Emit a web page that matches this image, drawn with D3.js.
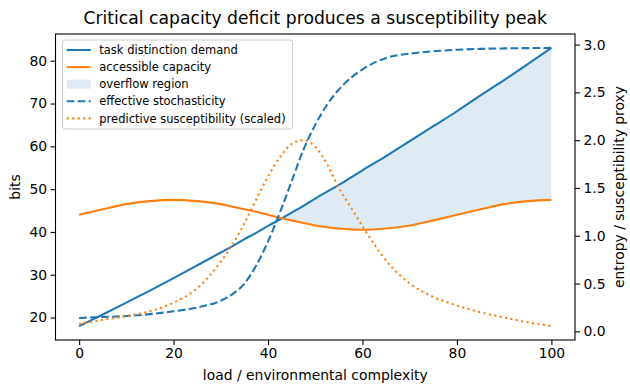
<!DOCTYPE html>
<html>
<head>
<meta charset="utf-8">
<script src="https://cdn.jsdelivr.net/npm/d3@7"></script>
<style>
    body { margin: 0; background: #fff; }
    text { font-family: "DejaVu Sans", sans-serif; fill: #000; }
</style>
</head>
<body>
<div id="chart"></div>
<script>
// load grid shared by every series
const load = [0, 5, 10, 15, 20, 25, 30, 32.5, 35, 37.5, 40, 42.5, 45, 47.5, 50,
    52.5, 55, 57.5, 60, 65, 70, 75, 80, 85, 90, 95, 100];

// left axis (bits)
const demand = [18.0, 20.7, 23.5, 26.3, 29.2, 32.2, 35.2, 36.7, 38.3, 39.8, 41.4, 42.9, 44.5, 46.1, 47.8,
    49.4, 51.0, 52.7, 54.4, 57.7, 61.2, 64.7, 68.2, 71.9, 75.5, 79.2, 83.0];
const capacity = [44.0, 45.3, 46.5, 47.2, 47.5, 47.2, 46.5, 45.9, 45.3, 44.7, 44.0, 43.3, 42.7, 42.1, 41.5,
    41.1, 40.8, 40.6, 40.5, 40.8, 41.5, 42.7, 44.0, 45.3, 46.5, 47.2, 47.5];

// right axis (entropy / susceptibility proxy)
const stochasticity = [0.14, 0.15, 0.16, 0.18, 0.21, 0.25, 0.32, 0.39, 0.50, 0.69, 0.94, 1.24, 1.57, 1.90, 2.16,
    2.37, 2.53, 2.65, 2.74, 2.86, 2.905, 2.93, 2.945, 2.955, 2.96, 2.963, 2.965];
const susceptibility = [0.08, 0.12, 0.16, 0.21, 0.30, 0.45, 0.73, 0.91, 1.13, 1.38, 1.62, 1.82, 1.96, 2.00, 1.93,
    1.75, 1.50, 1.30, 1.10, 0.74, 0.50, 0.36, 0.27, 0.20, 0.145, 0.095, 0.055];

const xTicks = [0, 20, 40, 60, 80, 100];
const leftTicks = [20, 30, 40, 50, 60, 70, 80];
const rightTicks = [0, 0.5, 1.0, 1.5, 2.0, 2.5, 3.0];

const labels = ["task distinction demand", "accessible capacity", "overflow region",
    "effective stochasticity", "predictive susceptibility (scaled)"];

const width = 630;
const height = 384;
const plot = { left: 55.5, right: 575, top: 34, bottom: 340 };
const blue = "#1f77b4";
const orange = "#ff7f0e";
const tickFont = 13.9;

// matplotlib style 5% margins
function padded(lo, hi) {
    const r = hi - lo;
    return [lo - 0.05 * r, hi + 0.05 * r];
}

const x = d3.scaleLinear()
    .domain(padded(d3.min(load), d3.max(load)))
    .range([plot.left, plot.right]);

const y = d3.scaleLinear()
    .domain(padded(d3.min(demand.concat(capacity)), d3.max(demand.concat(capacity))))
    .range([plot.bottom, plot.top]);

const y2 = d3.scaleLinear()
    .domain(padded(d3.min(stochasticity.concat(susceptibility)), d3.max(stochasticity.concat(susceptibility))))
    .range([plot.bottom, plot.top]);

const svg = d3.select("#chart").append("svg")
    .attr("width", width)
    .attr("height", height);

// overflow region: where demand exceeds capacity, with the crossing point interpolated
const overflow = [];
for (let i = 0; i < load.length; i++) {
    const gap = demand[i] - capacity[i];
    if (i > 0) {
        const prev = demand[i - 1] - capacity[i - 1];
        if ((prev < 0 && gap >= 0) || (prev >= 0 && gap < 0)) {
            const t = prev / (prev - gap);
            const cx = load[i - 1] + t * (load[i] - load[i - 1]);
            const cy = demand[i - 1] + t * (demand[i] - demand[i - 1]);
            overflow.push({ x: cx, lo: cy, hi: cy, on: true });
        }
    }
    overflow.push({ x: load[i], lo: capacity[i], hi: demand[i], on: gap >= 0 });
}

const area = d3.area()
    .defined((d) => d.on)
    .x((d) => x(d.x))
    .y0((d) => y(d.lo))
    .y1((d) => y(d.hi))
    .curve(d3.curveMonotoneX);

svg.append("path")
    .attr("d", area(overflow))
    .attr("fill", blue)
    .attr("fill-opacity", 0.15);

function lineOn(scale, values) {
    return d3.line()
        .x((d, i) => x(load[i]))
        .y((d) => scale(d))
        .curve(d3.curveMonotoneX)(values);
}

const series = [
    { values: demand, scale: y, color: blue, dash: null },
    { values: capacity, scale: y, color: orange, dash: null },
    { values: stochasticity, scale: y2, color: blue, dash: "7.7,3.3" },
    { values: susceptibility, scale: y2, color: orange, dash: "2.1,3.4" }
];

series.forEach((s) => {
    svg.append("path")
        .attr("d", lineOn(s.scale, s.values))
        .attr("fill", "none")
        .attr("stroke", s.color)
        .attr("stroke-width", 2.08)
        .attr("stroke-dasharray", s.dash);
});

// axes
const xAxis = svg.append("g")
    .attr("transform", "translate(0," + plot.bottom + ")")
    .call(d3.axisBottom(x).tickValues(xTicks).tickSize(4.9).tickPadding(3.5));

const yAxis = svg.append("g")
    .attr("transform", "translate(" + plot.left + ",0)")
    .call(d3.axisLeft(y).tickValues(leftTicks).tickSize(4.9).tickPadding(3.5));

const y2Axis = svg.append("g")
    .attr("transform", "translate(" + plot.right + ",0)")
    .call(d3.axisRight(y2).tickValues(rightTicks).tickFormat(d3.format(".1f")).tickSize(4.9).tickPadding(3.5));

[xAxis, yAxis, y2Axis].forEach((g) => {
    g.select(".domain").remove();
    g.selectAll("line").attr("stroke", "#000").attr("stroke-width", 1.1);
    g.selectAll("text")
        .style("font-family", "'DejaVu Sans', sans-serif")
        .style("font-size", tickFont + "px")
        .attr("fill", "#000");
});

svg.append("rect")
    .attr("x", plot.left)
    .attr("y", plot.top)
    .attr("width", plot.right - plot.left)
    .attr("height", plot.bottom - plot.top)
    .attr("fill", "none")
    .attr("stroke", "#000")
    .attr("stroke-width", 1.1);

// titles
svg.append("text")
    .attr("x", (plot.left + plot.right) / 2)
    .attr("y", 23.5)
    .attr("text-anchor", "middle")
    .style("font-size", "17.2px")
    .text("Critical capacity deficit produces a susceptibility peak");

svg.append("text")
    .attr("x", (plot.left + plot.right) / 2)
    .attr("y", 380)
    .attr("text-anchor", "middle")
    .style("font-size", tickFont + "px")
    .text("load / environmental complexity");

svg.append("text")
    .attr("transform", "translate(20," + (plot.top + plot.bottom) / 2 + ") rotate(-90)")
    .attr("text-anchor", "middle")
    .style("font-size", tickFont + "px")
    .text("bits");

svg.append("text")
    .attr("transform", "translate(624," + (plot.top + plot.bottom) / 2 + ") rotate(-90)")
    .attr("text-anchor", "middle")
    .style("font-size", tickFont + "px")
    .text("entropy / susceptibility proxy");

// legend
const legend = svg.append("g");

legend.append("rect")
    .attr("x", 62.5)
    .attr("y", 40)
    .attr("width", 230)
    .attr("height", 89)
    .attr("rx", 2.8)
    .attr("fill", "#fff")
    .attr("fill-opacity", 0.8)
    .attr("stroke", "#cccccc")
    .attr("stroke-width", 1);

const legendRows = legend.selectAll(".row")
    .data(labels)
    .enter().append("g")
    .attr("class", "row")
    .attr("transform", (d, i) => "translate(0," + (50 + i * 17.1) + ")");

legendRows.each(function (d, i) {
    const row = d3.select(this);
    if (i === 2) {
        row.append("rect")
            .attr("x", 66.7)
            .attr("y", -4.5)
            .attr("width", 24)
            .attr("height", 9)
            .attr("fill", blue)
            .attr("fill-opacity", 0.15);
    } else {
        const s = series[i < 2 ? i : i - 1];
        row.append("line")
            .attr("x1", 66.7)
            .attr("x2", 90.7)
            .attr("stroke", s.color)
            .attr("stroke-width", 2.08)
            .attr("stroke-dasharray", s.dash);
    }
    row.append("text")
        .attr("x", 99.3)
        .attr("y", 4.1)
        .style("font-size", "11.5px")
        .text(d);
});
</script>
</body>
</html>
